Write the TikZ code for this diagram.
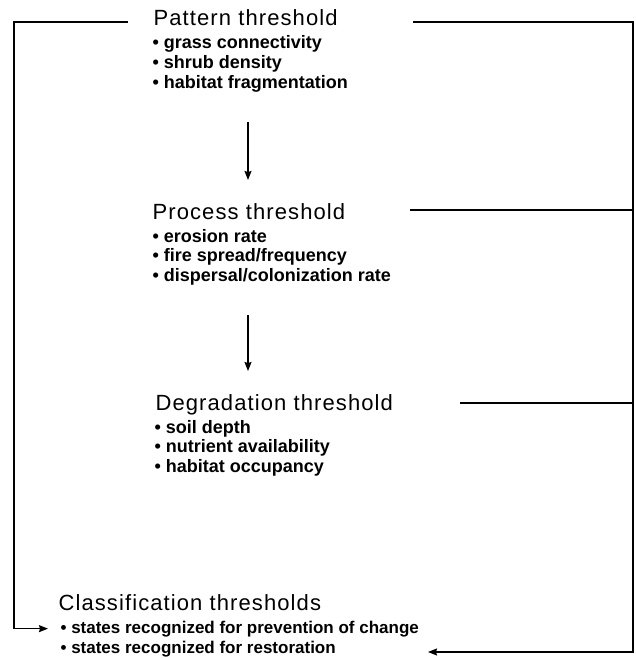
\documentclass[tikz,border=0pt]{standalone}
\usepackage{fontspec}
\setmainfont{Liberation Sans}
\newfontfamily\headfont{Liberation Sans}[LetterSpace=5]
\usetikzlibrary{arrows.meta,positioning}

\begin{document}
\begin{tikzpicture}[
    x = 1pt, y = -1pt,
    > = {Stealth[length=9pt,width=7pt,inset=1pt]},
    line width = 1.2pt,
    head/.style={anchor=base west, inner sep=0pt, font=\headfont\fontsize{22}{24}\selectfont},
    item/.style={anchor=base west, inner sep=0pt, font=\bfseries\fontsize{18}{20}\selectfont}
]
    \useasboundingbox (0,0) rectangle (636,658);

    % threshold blocks
    \node[head] (pat) at (153,26) {Pattern threshold};
    \foreach \t [count=\i] in {grass connectivity, shrub density, habitat fragmentation}
        \node[item] (pat\i) at (152,{26+23+19.8*(\i-1)}) {• \t};

    \node[head] (proc) at (152,219) {Process threshold};
    \foreach \t [count=\i] in {erosion rate, fire spread/frequency, dispersal/colonization rate}
        \node[item] (proc\i) at (152,{219+23+19.8*(\i-1)}) {• \t};

    \node[head] (degr) at (155,410) {Degradation threshold};
    \foreach \t [count=\i] in {soil depth, nutrient availability, habitat occupancy}
        \node[item] (degr\i) at (154,{410+23+19.8*(\i-1)}) {• \t};

    \node[head] (cls) at (58,610) {Classification thresholds};
    \node[item, font=\bfseries\fontsize{17}{19}\selectfont] (cls1) at (60,633) {• states recognized for prevention of change};
    \node[item, font=\bfseries\fontsize{17}{19}\selectfont] (cls2) at (60,653) {• states recognized for restoration};

    % line ends and corners
    \coordinate (pl) at (128,22);
    \coordinate (lc) at (14,22);
    \coordinate (pr) at (413,22);
    \coordinate (rc) at (633,22);
    \coordinate (qr) at (410,210);
    \coordinate (dr) at (460,403);
    \coordinate (rt) at (428,652);
    \coordinate (a1) at (248,122);
    \coordinate (b1) at (248,180);
    \coordinate (a2) at (248,315);
    \coordinate (b2) at (248,371);

    % connectors
    \draw[->] (a1) -- (b1);
    \draw[->] (a2) -- (b2);
    \draw[->] (pl) -- (lc) |- ([xshift=-12pt]cls1.west);
    \draw[->] (pr) -- (rc) |- (rt);
    \draw (qr) -- (qr -| rc);
    \draw (dr) -- (dr -| rc);
\end{tikzpicture}
\end{document}
